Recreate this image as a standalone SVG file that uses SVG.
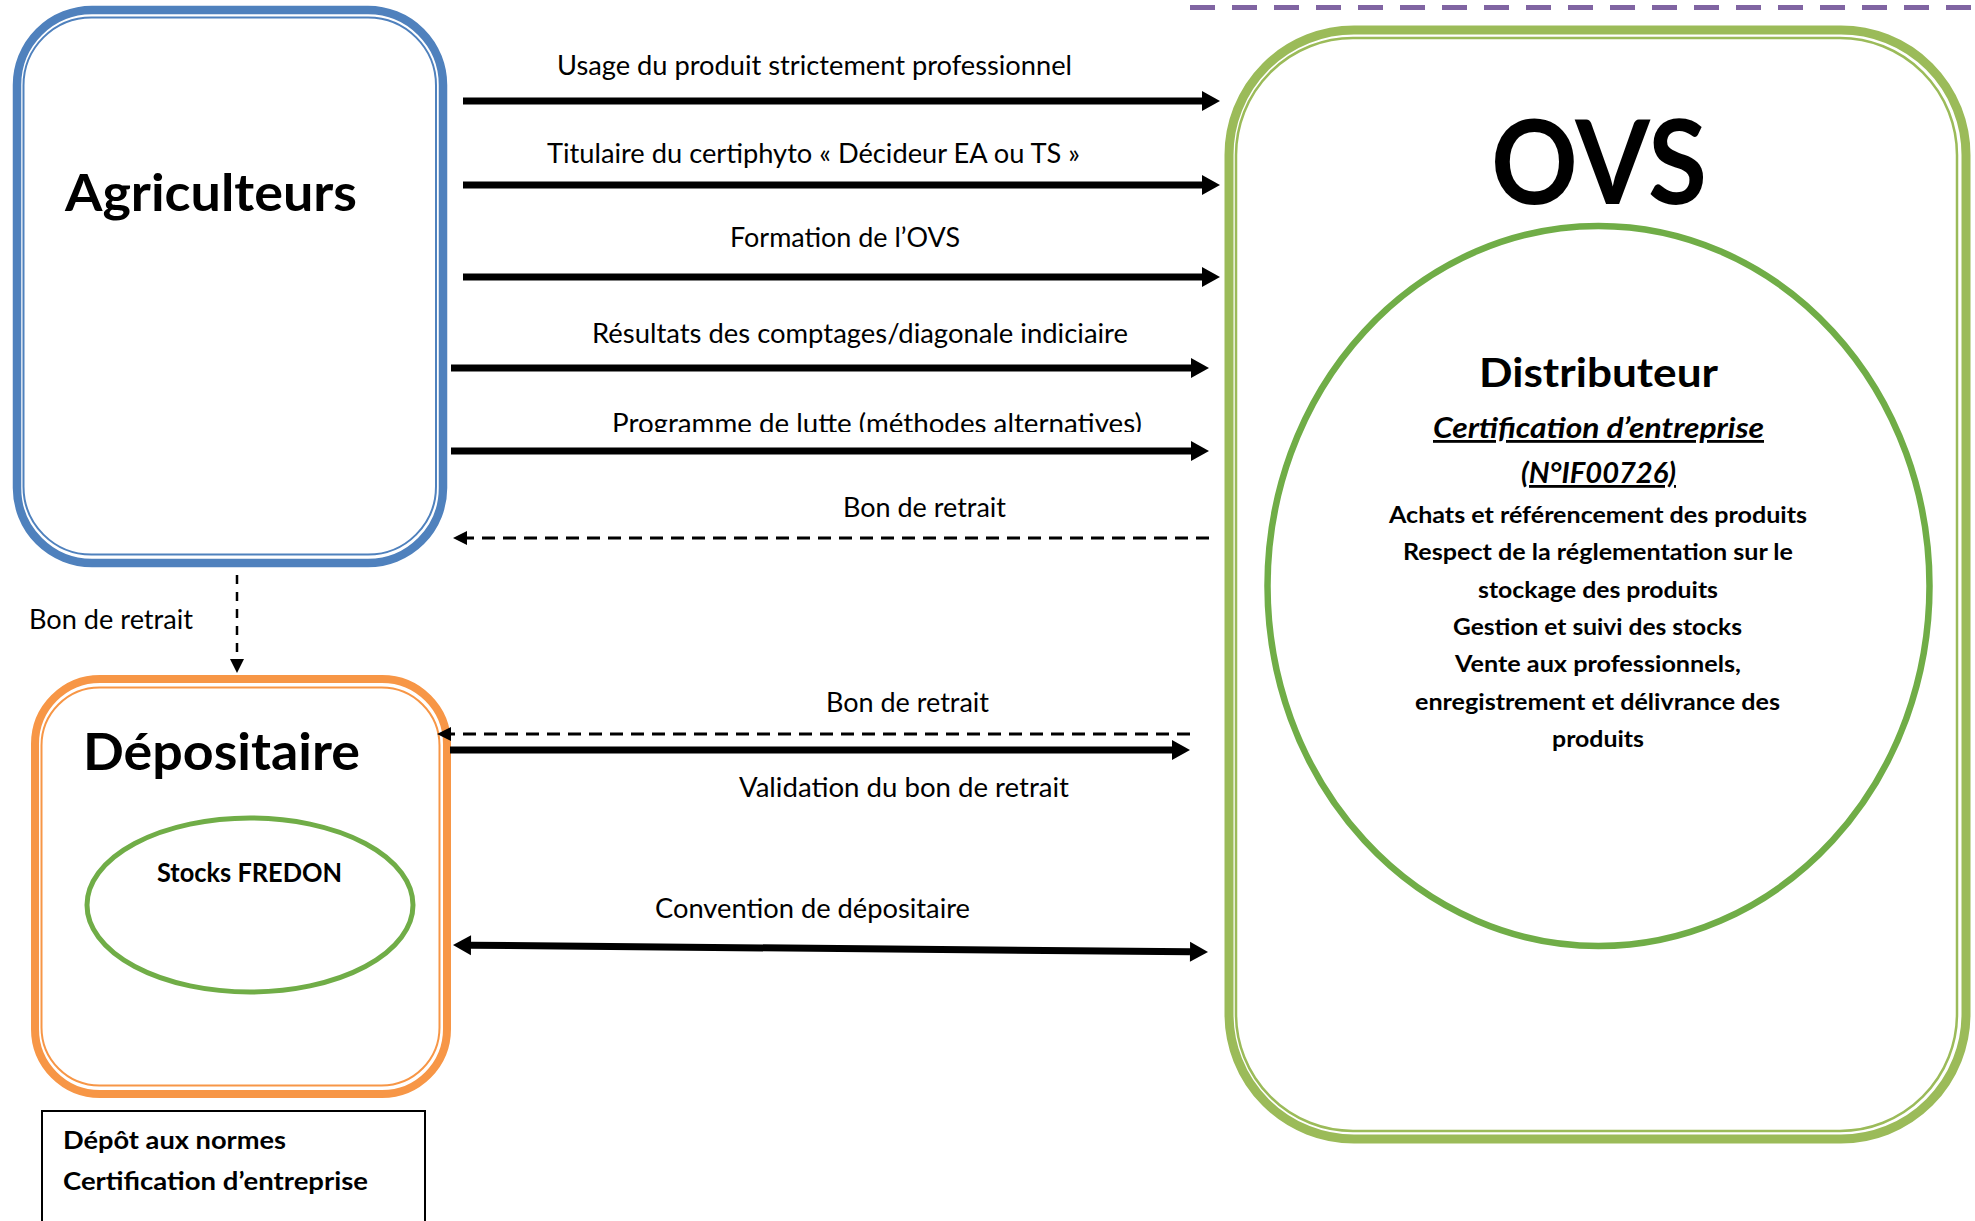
<svg xmlns="http://www.w3.org/2000/svg" width="1975" height="1221" viewBox="0 0 1975 1221">
<style>
text{font-family:Lato,"Open Sans","Liberation Sans",sans-serif;fill:#000}
.lbl{font-size:26px}
.b{font-weight:700}
.arr{stroke:#000;stroke-width:7;fill:none}
.dsh{stroke:#000;stroke-width:3;stroke-dasharray:13 8;fill:none}
</style>
<defs>
<marker id="ah" markerUnits="userSpaceOnUse" markerWidth="18" markerHeight="20" refX="0" refY="10" orient="auto-start-reverse" overflow="visible"><path d="M0,0 L18,10 L0,20 z" fill="#000"/></marker>
<marker id="dh" markerUnits="userSpaceOnUse" markerWidth="14" markerHeight="14" refX="0" refY="7" orient="auto" overflow="visible"><path d="M0,0 L14,7 L0,14 z" fill="#000"/></marker>
<clipPath id="clipProg"><rect x="0" y="0" width="1975" height="432"/></clipPath>
</defs>
<rect width="1975" height="1221" fill="#fff"/>

<g id="top-border">
<line x1="1190" y1="7.5" x2="1975" y2="7.5" stroke="#8064A2" stroke-width="5" stroke-dasharray="25 17"/>
</g>

<g id="node-agriculteurs">
<rect x="17" y="10" width="426" height="553" rx="75" ry="75" fill="none" stroke="#4F81BD" stroke-width="8.5"/>
<rect x="23.5" y="17.5" width="412.5" height="537" rx="68" ry="68" fill="none" stroke="#4F81BD" stroke-width="2"/>
<text class="b" x="65" y="211" font-size="52" textLength="292" lengthAdjust="spacingAndGlyphs">Agriculteurs</text>
</g>

<g id="node-depositaire">
<rect x="35" y="679" width="412" height="415" rx="65" ry="65" fill="none" stroke="#F79646" stroke-width="8"/>
<rect x="41.5" y="687.5" width="398" height="398" rx="58" ry="58" fill="none" stroke="#F79646" stroke-width="2"/>
<text class="b" x="83" y="770" font-size="52" textLength="277" lengthAdjust="spacingAndGlyphs">Dépositaire</text>
<g id="node-stocks-fredon">
<ellipse cx="250" cy="905" rx="163" ry="87" fill="none" stroke="#70AD47" stroke-width="5"/>
<text class="b" x="157" y="882" font-size="27" textLength="185" lengthAdjust="spacingAndGlyphs">Stocks FREDON</text>
</g>
</g>

<g id="node-depot">
<rect x="42" y="1111" width="383" height="130" fill="none" stroke="#000" stroke-width="2"/>
<text class="b" x="63" y="1149" font-size="25" textLength="223" lengthAdjust="spacingAndGlyphs">Dépôt aux normes</text>
<text class="b" x="63" y="1190" font-size="25" textLength="305" lengthAdjust="spacingAndGlyphs">Certification d’entreprise</text>
</g>

<g id="node-ovs">
<rect x="1229" y="30" width="737" height="1109" rx="125" ry="125" fill="none" stroke="#9BBB59" stroke-width="9"/>
<rect x="1236" y="38" width="721" height="1093" rx="117" ry="117" fill="none" stroke="#9BBB59" stroke-width="2.5"/>
<text class="b" x="1491" y="204" font-size="116" textLength="216" lengthAdjust="spacingAndGlyphs">OVS</text>
<g id="node-distributeur">
<ellipse cx="1598.5" cy="586" rx="331" ry="360" fill="none" stroke="#70AD47" stroke-width="6.5"/>
<text class="b" x="1479" y="387" font-size="40" textLength="239" lengthAdjust="spacingAndGlyphs">Distributeur</text>
<text class="b" x="1433" y="438" font-size="28" font-style="italic" text-decoration="underline" textLength="331" lengthAdjust="spacingAndGlyphs">Certification d’entreprise</text>
<text class="b" x="1521" y="483" font-size="28" font-style="italic" text-decoration="underline" textLength="155" lengthAdjust="spacingAndGlyphs">(N°IF00726)</text>
<text class="b" x="1389" y="523" font-size="23.5" textLength="418" lengthAdjust="spacingAndGlyphs">Achats et référencement des produits</text>
<text class="b" x="1403" y="560" font-size="23.5" textLength="390" lengthAdjust="spacingAndGlyphs">Respect de la réglementation sur le</text>
<text class="b" x="1478" y="598" font-size="23.5" textLength="240" lengthAdjust="spacingAndGlyphs">stockage des produits</text>
<text class="b" x="1453" y="635" font-size="23.5" textLength="289" lengthAdjust="spacingAndGlyphs">Gestion et suivi des stocks</text>
<text class="b" x="1455" y="672" font-size="23.5" textLength="286" lengthAdjust="spacingAndGlyphs">Vente aux professionnels,</text>
<text class="b" x="1415" y="710" font-size="23.5" textLength="365" lengthAdjust="spacingAndGlyphs">enregistrement et délivrance des</text>
<text class="b" x="1552" y="747" font-size="23.5" textLength="92" lengthAdjust="spacingAndGlyphs">produits</text>
</g>
</g>

<g id="connectors">
<path class="arr" d="M463,101 H1202" marker-end="url(#ah)"/>
<path class="arr" d="M463,185 H1202" marker-end="url(#ah)"/>
<path class="arr" d="M463,277 H1202" marker-end="url(#ah)"/>
<path class="arr" d="M451,368 H1191" marker-end="url(#ah)"/>
<path class="arr" d="M451,451 H1191" marker-end="url(#ah)"/>
<path class="dsh" d="M1209,538 H467" marker-end="url(#dh)"/>
<path class="dsh" d="M1190,734 H451" marker-end="url(#dh)"/>
<path class="arr" d="M450,750 H1172" marker-end="url(#ah)"/>
<path class="arr" d="M471,945.2 L1190,951.8" marker-start="url(#ah)" marker-end="url(#ah)"/>
<path d="M237,575 V659" stroke="#000" stroke-width="2.5" stroke-dasharray="9 8" fill="none" marker-end="url(#dh)"/>
</g>

<g id="connector-labels">
<text class="lbl" x="557" y="75" textLength="515" lengthAdjust="spacingAndGlyphs">Usage du produit strictement professionnel</text>
<text class="lbl" x="547" y="163" textLength="533" lengthAdjust="spacingAndGlyphs">Titulaire du certiphyto « Décideur EA ou TS »</text>
<text class="lbl" x="730" y="247" textLength="230" lengthAdjust="spacingAndGlyphs">Formation de l’OVS</text>
<text class="lbl" x="592" y="343" textLength="536" lengthAdjust="spacingAndGlyphs">Résultats des comptages/diagonale indiciaire</text>
<text class="lbl" x="612" y="433" textLength="530" lengthAdjust="spacingAndGlyphs" clip-path="url(#clipProg)">Programme de lutte (méthodes alternatives)</text>
<text class="lbl" x="843" y="517" textLength="163" lengthAdjust="spacingAndGlyphs">Bon de retrait</text>
<text class="lbl" x="29" y="629" textLength="164" lengthAdjust="spacingAndGlyphs">Bon de retrait</text>
<text class="lbl" x="826" y="712" textLength="163" lengthAdjust="spacingAndGlyphs">Bon de retrait</text>
<text class="lbl" x="739" y="797" textLength="330" lengthAdjust="spacingAndGlyphs">Validation du bon de retrait</text>
<text class="lbl" x="655" y="918" textLength="315" lengthAdjust="spacingAndGlyphs">Convention de dépositaire</text>
</g>
</svg>
